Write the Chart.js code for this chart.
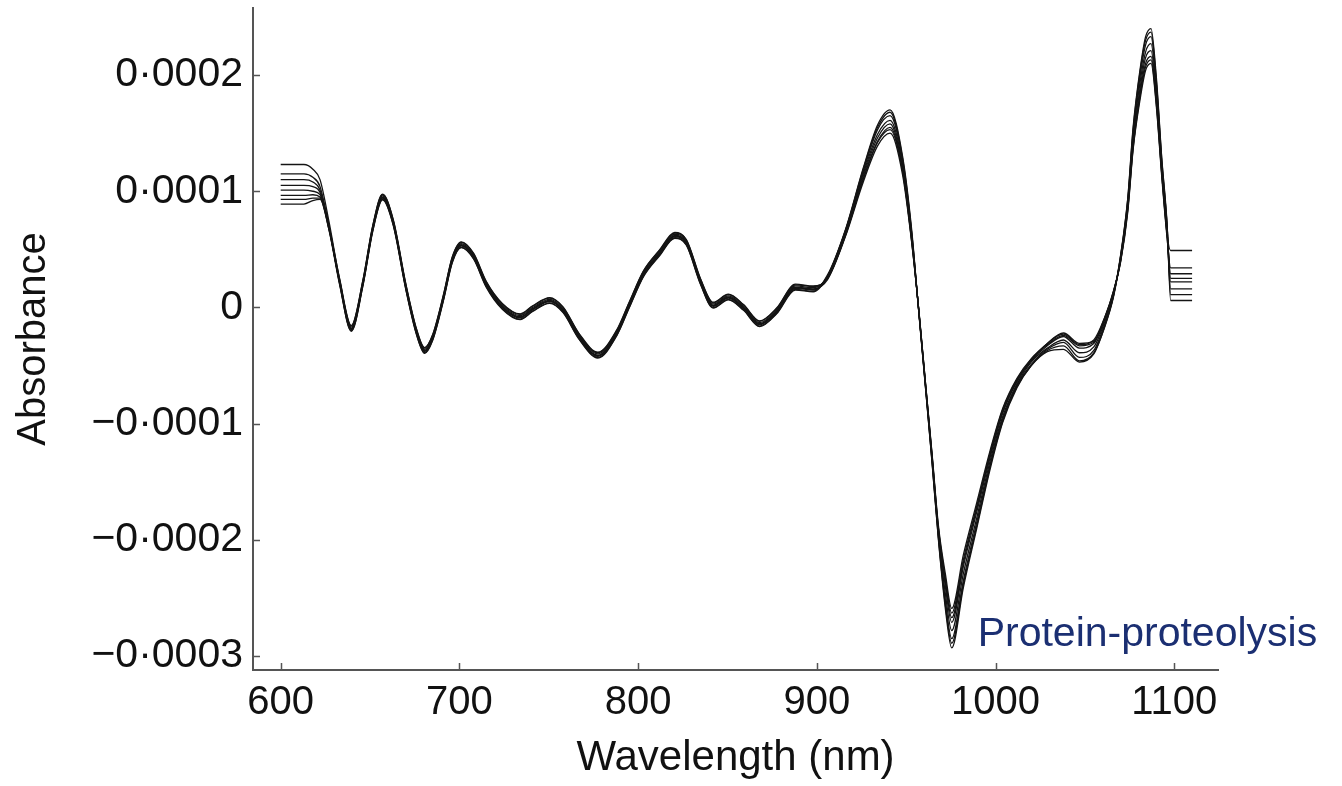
<!DOCTYPE html>
<html>
<head>
<meta charset="utf-8">
<title>Protein-proteolysis spectra</title>
<script src="https://cdn.jsdelivr.net/npm/chart.js@4.4.0/dist/chart.umd.min.js"></script>
<style>
  html, body { margin: 0; padding: 0; background: #fff; }
  #wrap { width: 1342px; height: 786px; }
</style>
</head>
<body>
<div id="wrap"><canvas id="spectra" width="1342" height="786"></canvas></div>
<script>
// wavelength grid (nm) shared by every spectrum
const wavelengths = [
  600, 613, 618, 622, 627,
  633, 639.5, 646, 651.5, 657,
  663, 670, 676, 680.5, 685,
  691, 696, 701, 708, 715,
  724, 734, 741, 750.5, 758,
  767, 777.5, 788, 795, 803,
  812, 820.5, 827, 835, 842,
  850.5, 859, 868, 877.5, 888,
  898, 906, 916, 926, 934,
  941, 948, 953, 957, 961,
  964.5, 968, 972, 975.5, 982,
  989.5, 997, 1004, 1012, 1020,
  1029, 1038, 1047, 1055, 1061,
  1066, 1070, 1074, 1077, 1081,
  1084, 1087, 1090, 1093, 1096,
  1098, 1110
];

// absorbance in units of 1e-4, one array per sample
const sample1 = [
  1.23, 1.23, 1.19, 1.10, 0.74,
  0.24, -0.16, 0.23, 0.70, 0.97,
  0.75, 0.20, -0.19, -0.35, -0.24,
  0.10, 0.43, 0.56, 0.46, 0.22,
  0.03, -0.06, 0.01, 0.08, 0.00,
  -0.23, -0.39, -0.20, 0.04, 0.31,
  0.49, 0.64, 0.58, 0.24, 0.04,
  0.11, 0.02, -0.12, -0.01, 0.195,
  0.18, 0.25, 0.62, 1.10, 1.42,
  1.53, 1.17, 0.58, -0.01, -0.68,
  -1.27, -1.89, -2.34, -2.63, -2.17,
  -1.71, -1.25, -0.88, -0.62, -0.45,
  -0.31, -0.23, -0.32, -0.28, -0.09,
  0.13, 0.40, 0.84, 1.37, 1.83,
  2.07, 2.13, 1.75, 1.15, 0.62,
  0.22, 0.22
];
const sample2 = [
  1.15, 1.15, 1.12, 1.04, 0.70,
  0.20, -0.20, 0.19, 0.66, 0.93,
  0.71, 0.16, -0.23, -0.39, -0.28,
  0.06, 0.39, 0.52, 0.42, 0.18,
  -0.01, -0.10, -0.03, 0.04, -0.04,
  -0.27, -0.43, -0.24, 0.00, 0.27,
  0.45, 0.60, 0.54, 0.20, 0.00,
  0.07, -0.02, -0.16, -0.05, 0.155,
  0.14, 0.28, 0.67, 1.20, 1.57,
  1.70, 1.30, 0.68, -0.03, -0.72,
  -1.34, -1.99, -2.60, -2.93, -2.41,
  -1.90, -1.39, -0.99, -0.69, -0.50,
  -0.37, -0.33, -0.46, -0.39, -0.17,
  0.10, 0.45, 0.94, 1.55, 2.06,
  2.33, 2.40, 1.98, 1.29, 0.72,
  0.06, 0.06
];
const sample3 = [
  1.10, 1.10, 1.08, 1.01, 0.70,
  0.23, -0.17, 0.22, 0.69, 0.96,
  0.74, 0.19, -0.20, -0.36, -0.25,
  0.09, 0.42, 0.55, 0.45, 0.21,
  0.02, -0.07, 0.00, 0.07, -0.01,
  -0.24, -0.40, -0.21, 0.03, 0.30,
  0.48, 0.63, 0.57, 0.23, 0.03,
  0.10, 0.01, -0.13, -0.02, 0.185,
  0.17, 0.26, 0.63, 1.13, 1.46,
  1.58, 1.20, 0.61, -0.02, -0.70,
  -1.29, -1.92, -2.41, -2.71, -2.23,
  -1.76, -1.29, -0.91, -0.64, -0.46,
  -0.33, -0.25, -0.35, -0.31, -0.11,
  0.13, 0.41, 0.87, 1.43, 1.90,
  2.15, 2.21, 1.82, 1.19, 0.64,
  0.29, 0.29
];
const sample4 = [
  1.05, 1.05, 1.04, 0.99, 0.69,
  0.21, -0.19, 0.20, 0.67, 0.94,
  0.72, 0.17, -0.22, -0.38, -0.27,
  0.07, 0.40, 0.53, 0.43, 0.19,
  0.00, -0.09, -0.02, 0.05, -0.03,
  -0.26, -0.42, -0.23, 0.01, 0.28,
  0.46, 0.61, 0.55, 0.21, 0.01,
  0.08, -0.01, -0.15, -0.04, 0.165,
  0.15, 0.27, 0.66, 1.17, 1.53,
  1.65, 1.26, 0.65, -0.02, -0.71,
  -1.32, -1.96, -2.53, -2.85, -2.35,
  -1.85, -1.35, -0.96, -0.67, -0.49,
  -0.36, -0.30, -0.43, -0.37, -0.15,
  0.10, 0.44, 0.91, 1.50, 2.00,
  2.26, 2.33, 1.92, 1.25, 0.70,
  0.11, 0.11
];
const sample5 = [
  1.01, 1.01, 1.00, 0.97, 0.70,
  0.245, -0.155, 0.235, 0.705, 0.975,
  0.755, 0.205, -0.185, -0.345, -0.235,
  0.105, 0.435, 0.565, 0.465, 0.225,
  0.035, -0.055, 0.015, 0.085, 0.005,
  -0.225, -0.385, -0.195, 0.045, 0.315,
  0.495, 0.645, 0.585, 0.245, 0.045,
  0.115, 0.025, -0.115, -0.005, 0.20,
  0.185, 0.25, 0.62, 1.11, 1.43,
  1.55, 1.18, 0.59, -0.01, -0.69,
  -1.28, -1.90, -2.37, -2.67, -2.20,
  -1.73, -1.27, -0.90, -0.63, -0.45,
  -0.31, -0.22, -0.31, -0.29, -0.09,
  0.14, 0.40, 0.85, 1.39, 1.86,
  2.10, 2.16, 1.78, 1.16, 0.63,
  0.49, 0.49
];
const sample6 = [
  0.965, 0.965, 0.97, 0.95, 0.67,
  0.195, -0.205, 0.185, 0.655, 0.925,
  0.705, 0.155, -0.235, -0.395, -0.285,
  0.055, 0.385, 0.515, 0.415, 0.175,
  -0.015, -0.105, -0.035, 0.035, -0.045,
  -0.275, -0.435, -0.245, -0.005, 0.265,
  0.445, 0.595, 0.535, 0.195, -0.005,
  0.065, -0.025, -0.165, -0.055, 0.15,
  0.135, 0.27, 0.66, 1.19, 1.55,
  1.68, 1.28, 0.66, -0.03, -0.72,
  -1.33, -1.98, -2.57, -2.89, -2.38,
  -1.88, -1.37, -0.98, -0.68, -0.50,
  -0.38, -0.36, -0.47, -0.40, -0.17,
  0.09, 0.44, 0.93, 1.53, 2.04,
  2.30, 2.37, 1.95, 1.28, 0.71,
  0.16, 0.16
];
const sample7 = [
  0.93, 0.93, 0.94, 0.94, 0.68,
  0.22, -0.18, 0.21, 0.68, 0.95,
  0.73, 0.18, -0.21, -0.37, -0.26,
  0.08, 0.41, 0.54, 0.44, 0.20,
  0.01, -0.08, -0.01, 0.06, -0.02,
  -0.25, -0.41, -0.22, 0.02, 0.29,
  0.47, 0.62, 0.56, 0.22, 0.02,
  0.09, 0.00, -0.14, -0.03, 0.175,
  0.16, 0.24, 0.61, 1.08, 1.39,
  1.50, 1.14, 0.57, -0.01, -0.68,
  -1.26, -1.87, -2.30, -2.59, -2.13,
  -1.68, -1.23, -0.87, -0.61, -0.44,
  -0.32, -0.24, -0.33, -0.30, -0.10,
  0.14, 0.39, 0.82, 1.36, 1.80,
  2.04, 2.10, 1.73, 1.13, 0.60,
  0.34, 0.34
];
const sample8 = [
  0.89, 0.89, 0.92, 0.93, 0.67,
  0.215, -0.185, 0.205, 0.675, 0.945,
  0.725, 0.175, -0.215, -0.375, -0.265,
  0.075, 0.405, 0.535, 0.435, 0.195,
  0.005, -0.085, -0.015, 0.055, -0.025,
  -0.255, -0.415, -0.225, 0.015, 0.285,
  0.465, 0.615, 0.555, 0.215, 0.015,
  0.085, -0.005, -0.145, -0.035, 0.17,
  0.155, 0.26, 0.64, 1.15, 1.49,
  1.61, 1.23, 0.63, -0.02, -0.70,
  -1.30, -1.94, -2.47, -2.78, -2.29,
  -1.81, -1.32, -0.94, -0.66, -0.47,
  -0.35, -0.28, -0.39, -0.34, -0.13,
  0.11, 0.42, 0.89, 1.47, 1.95,
  2.20, 2.27, 1.87, 1.22, 0.67,
  0.25, 0.25
];

const spectra = [sample1, sample2, sample3, sample4, sample5, sample6, sample7, sample8];

const xTicks = [600, 700, 800, 900, 1000, 1100];
const yTicks = [-3, -2, -1, 0, 1, 2];   // x 1e-4
const groupLabel = 'Protein-proteolysis';

const FONT = '"Liberation Sans", Arial, Helvetica, sans-serif';
Chart.defaults.font.family = FONT;
Chart.defaults.color = '#111';

// 0.0002 style labels with a raised decimal point and a real minus sign
function fmtAbs(v) {
  if (Math.abs(v) < 1e-9) return '0';
  const s = (Math.abs(v) / 10000).toFixed(4).replace('.', '\u00B7');
  return (v < 0 ? '\u2212' : '') + s;
}

// short tick marks pointing into the plot
const innerTicks = {
  id: 'innerTicks',
  afterDraw(chart) {
    const { ctx, scales: { x, y }, chartArea } = chart;
    ctx.save();
    ctx.strokeStyle = '#555';
    ctx.lineWidth = 1.5;
    ctx.beginPath();
    x.ticks.forEach(t => {
      const px = Math.round(x.getPixelForValue(t.value)) + 0.5;
      ctx.moveTo(px, chartArea.bottom);
      ctx.lineTo(px, chartArea.bottom - 7);
    });
    y.ticks.forEach(t => {
      const py = Math.round(y.getPixelForValue(t.value)) + 0.5;
      ctx.moveTo(chartArea.left, py);
      ctx.lineTo(chartArea.left + 7, py);
    });
    ctx.stroke();
    ctx.restore();
  }
};

// group name written next to the main minimum
const groupTag = {
  id: 'groupTag',
  afterDraw(chart) {
    const { ctx, scales: { x, y } } = chart;
    ctx.save();
    ctx.font = '41px ' + FONT;
    ctx.fillStyle = '#1b2f72';
    ctx.textAlign = 'left';
    ctx.textBaseline = 'alphabetic';
    ctx.fillText(groupLabel, x.getPixelForValue(990), y.getPixelForValue(-2.91));
    ctx.restore();
  }
};

const datasets = spectra.map((s, i) => ({
  label: 'Sample ' + (i + 1),
  data: wavelengths.map((w, j) => ({ x: w, y: s[j] })),
  borderColor: '#141414',
  borderWidth: 1.3,
  pointRadius: 0,
  cubicInterpolationMode: 'monotone',
  fill: false
}));

new Chart(document.getElementById('spectra').getContext('2d'), {
  type: 'line',
  data: { datasets: datasets },
  plugins: [innerTicks, groupTag],
  options: {
    responsive: false,
    devicePixelRatio: 1,
    animation: false,
    layout: { padding: { top: 8, right: 124, left: 0, bottom: 0 } },
    plugins: {
      legend: { display: false },
      tooltip: { enabled: false }
    },
    scales: {
      x: {
        type: 'linear',
        min: 584.5,
        max: 1124.5,
        afterBuildTicks: s => { s.ticks = xTicks.map(v => ({ value: v })); },
        afterFit: s => { s.height = 116; s.paddingLeft = 0; s.paddingRight = 0; },
        grid: { display: false, drawTicks: false },
        border: { display: true, color: '#555', width: 2 },
        ticks: { font: { size: 40 }, padding: 9, maxRotation: 0, autoSkip: false, callback: v => String(v) },
        title: {
          display: true,
          text: 'Wavelength (nm)',
          font: { size: 42 },
          padding: { top: 0, bottom: 2 }
        }
      },
      y: {
        type: 'linear',
        min: -3.12,
        max: 2.577,
        afterBuildTicks: s => { s.ticks = yTicks.map(v => ({ value: v })); },
        afterFit: s => { s.width = 253; s.paddingTop = 0; s.paddingBottom = 0; },
        grid: { display: false, drawTicks: false },
        border: { display: true, color: '#555', width: 2 },
        ticks: { font: { size: 41 }, padding: 10, callback: v => fmtAbs(v) },
        title: {
          display: true,
          text: 'Absorbance',
          font: { size: 40 },
          padding: { top: 10, bottom: 0 }
        }
      }
    }
  }
});
</script>
</body>
</html>
